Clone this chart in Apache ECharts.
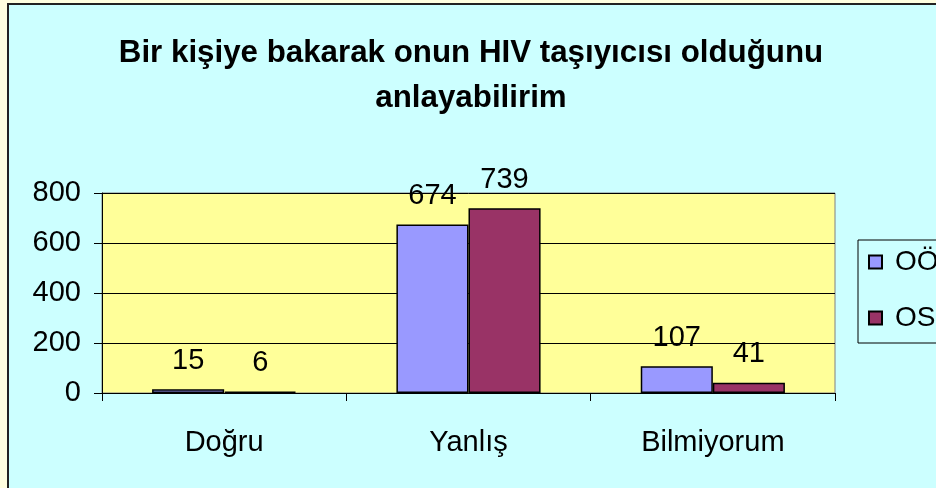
<!DOCTYPE html>
<html>
<head>
<meta charset="utf-8">
<script src="https://cdn.jsdelivr.net/npm/echarts@6/dist/echarts.min.js"></script>
<style>
  html, body { margin: 0; padding: 0; background: #FFFFE0; }
  #chart { width: 936px; height: 488px; }
</style>
</head>
<body>
<div id="chart"></div>
<script>
var categories = ["Doğru", "Yanlış", "Bilmiyorum"];
var seriesNames = ["OÖ", "OS"];
var valuesOO = [15, 674, 107];
var valuesOS = [6, 739, 41];
var yTicks = [0, 200, 400, 600, 800];

var chart = echarts.init(document.getElementById("chart"));
var font = "Liberation Sans, Arial, sans-serif";

function barSeries(name, data, color) {
  return {
    name: name,
    type: "bar",
    data: data,
    barGap: 0,
    barCategoryGap: "41%",
    itemStyle: {
      color: color,
      borderColor: "#000",
      borderWidth: 1.5
    },
    label: {
      show: true,
      position: "top",
      distance: 14,
      color: "#000",
      fontFamily: font,
      fontSize: 29
    }
  };
}

chart.setOption({
  backgroundColor: "#FFFFE0",
  animation: false,
  graphic: [{
    type: "rect",
    z: -10,
    shape: { x: 8, y: 4, width: 1000, height: 600 },
    style: { fill: "#CCFFFF", stroke: "#222", lineWidth: 2 }
  }],
  title: {
    text: "Bir kişiye bakarak onun HIV taşıyıcısı olduğunu\nanlayabilirim",
    left: 466,
    top: 26,
    textAlign: "center",
    textStyle: {
      fontFamily: font,
      fontWeight: "bold",
      fontSize: 31.3,
      lineHeight: 45,
      color: "#000"
    }
  },
  legend: {
    orient: "vertical",
    left: 858,
    top: 240,
    padding: [8, 80, 11, 10],
    itemGap: 28,
    itemWidth: 13,
    itemHeight: 13,
    icon: "rect",
    borderColor: "#000",
    borderWidth: 1,
    backgroundColor: "#CCFFFF",
    textStyle: {
      fontFamily: font,
      fontSize: 28,
      lineHeight: 28,
      color: "#000",
      padding: [0, 0, 0, 8]
    },
    data: seriesNames
  },
  grid: {
    left: 102,
    top: 193,
    width: 733,
    height: 200,
    show: true,
    backgroundColor: "#FFFF99",
    borderColor: "#808080",
    borderWidth: 1
  },
  xAxis: {
    type: "category",
    data: categories,
    axisLine: { lineStyle: { color: "#000", width: 1 } },
    axisTick: { show: true, length: 8, lineStyle: { color: "#000" } },
    axisLabel: {
      margin: 35,
      color: "#000",
      fontFamily: font,
      fontSize: 29
    }
  },
  yAxis: {
    type: "value",
    min: yTicks[0],
    max: yTicks[yTicks.length - 1],
    interval: 200,
    axisLine: { show: true, lineStyle: { color: "#000", width: 1 } },
    axisTick: { show: true, length: 8, lineStyle: { color: "#000" } },
    splitLine: { lineStyle: { color: "#000", width: 1 } },
    axisLabel: {
      margin: 21,
      color: "#000",
      fontFamily: font,
      fontSize: 29
    }
  },
  series: [
    barSeries(seriesNames[0], valuesOO, "#9999FF"),
    barSeries(seriesNames[1], valuesOS, "#993366")
  ]
});
</script>
</body>
</html>
